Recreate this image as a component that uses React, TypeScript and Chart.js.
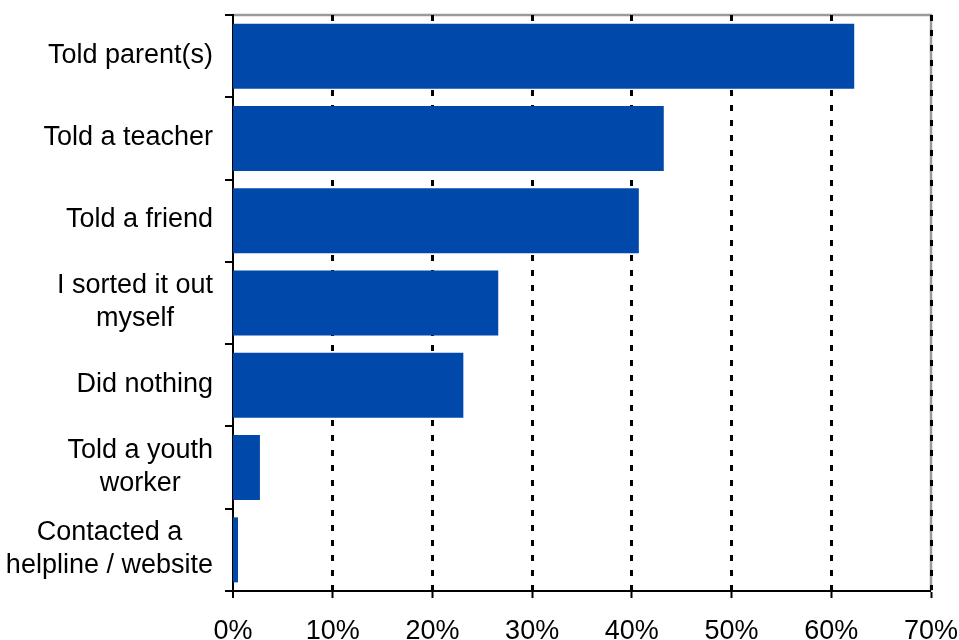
import React, { useEffect, useRef } from "react";
import { Chart, registerables } from "chart.js";

Chart.register(...registerables);

const categories: string[][] = [
  ["Told parent(s)"],
  ["Told a teacher"],
  ["Told a friend"],
  ["I sorted it out", "myself"],
  ["Did nothing"],
  ["Told a youth", "worker"],
  ["Contacted a", "helpline / website"],
];
const values: number[] = [62.3, 43.2, 40.7, 26.6, 23.1, 2.7, 0.5];
const xMin = 0;
const xMax = 70;
const xStep = 10;

const FONT = '"Liberation Sans", Arial, Helvetica, sans-serif';

const frameAndLabels = {
  id: "frameAndLabels",
  beforeDraw(chart: any) {
    const { ctx, chartArea } = chart;
    ctx.save();
    ctx.strokeStyle = "#9a9a9a";
    ctx.lineWidth = 2.5;
    ctx.beginPath();
    ctx.moveTo(chartArea.left, chartArea.top);
    ctx.lineTo(chartArea.right, chartArea.top);
    ctx.lineTo(chartArea.right, chartArea.bottom);
    ctx.stroke();
    ctx.restore();
  },
  afterDraw(chart: any) {
    const ctx = chart.ctx;
    const y = chart.scales.y;
    ctx.save();
    ctx.font = `27px ${FONT}`;
    ctx.fillStyle = "#000";
    ctx.textBaseline = "middle";
    ctx.textAlign = "center";
    categories.forEach((lines, i) => {
      const cy = y.getPixelForValue(i);
      const w = Math.max(...lines.map((l) => ctx.measureText(l).width));
      const cx = y.right - 20 - w / 2;
      lines.forEach((l, j) => {
        ctx.fillText(l, cx, cy - 1 + (j - (lines.length - 1) / 2) * 33);
      });
    });
    ctx.restore();
  },
};

export default function App() {
  const ref = useRef<HTMLCanvasElement>(null);
  useEffect(() => {
    const chart = new Chart(ref.current!, {
      type: "bar",
      data: {
        labels: categories,
        datasets: [
          {
            data: values,
            backgroundColor: "#0048AA",
            borderWidth: 0,
            barPercentage: 0.79,
            categoryPercentage: 1,
          },
        ],
      },
      plugins: [frameAndLabels],
      options: {
        indexAxis: "y",
        responsive: false,
        animation: false,
        layout: { padding: { top: 15, right: 28, left: 0, bottom: 0 } },
        plugins: { legend: { display: false }, tooltip: { enabled: false } },
        scales: {
          x: {
            min: xMin,
            max: xMax,
            ticks: {
              stepSize: xStep,
              color: "#000",
              font: { family: FONT, size: 27 },
              padding: 17,
              maxRotation: 0,
              callback: (v: any) => `${v}%`,
            },
            grid: {
              color: "#000",
              lineWidth: (c: any) => (c.index === 0 ? 0 : 3),
              tickWidth: 2,
              tickLength: 7,
              tickColor: "#000",
            },
            border: { color: "#000", width: 2, dash: [6, 9] },
            afterFit: (s: any) => {
              s.height = 49;
              s.paddingLeft = 0;
              s.paddingRight = 0;
            },
          },
          y: {
            ticks: { display: false },
            grid: {
              offset: true,
              drawOnChartArea: false,
              color: "#000",
              lineWidth: 2,
              tickLength: 8,
            },
            border: { color: "#000", width: 2 },
            afterFit: (s: any) => {
              s.width = 233;
              s.paddingTop = 0;
              s.paddingBottom = 0;
            },
          },
        },
      },
    });
    return () => chart.destroy();
  }, []);
  return (
    <canvas
      ref={ref}
      width={959}
      height={640}
      style={{ position: "absolute", left: 0, top: 0, background: "#fff" }}
    />
  );
}
